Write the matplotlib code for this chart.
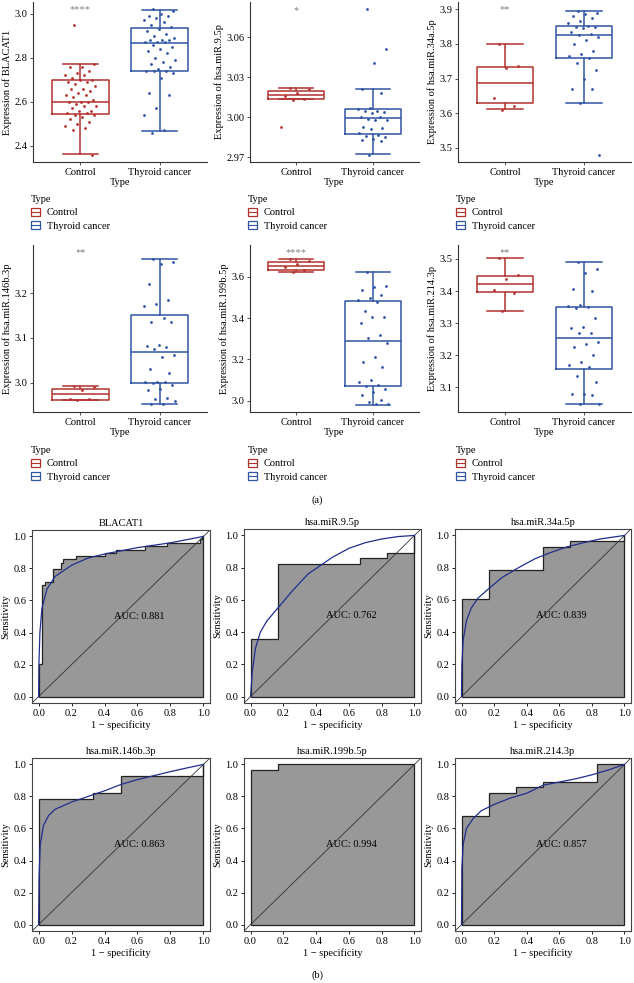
import numpy as np
import matplotlib
matplotlib.use('Agg')
import matplotlib.pyplot as plt
from matplotlib.patches import Patch
from matplotlib.lines import Line2D

plt.rcParams['font.family'] = ['Liberation Serif', 'DejaVu Serif']

# ---------------- data: expression boxplots ----------------
groups = ['Control', 'Thyroid cancer']

blacat1_ctrl = [2.95, 2.77, 2.76, 2.76, 2.74, 2.73, 2.72, 2.72, 2.71, 2.70, 2.70, 2.69, 2.69, 2.68,
                2.67, 2.66, 2.66, 2.65, 2.64, 2.63, 2.63, 2.62, 2.61, 2.60, 2.60, 2.60, 2.59, 2.58,
                2.58, 2.57, 2.56, 2.56, 2.55, 2.55, 2.54, 2.54, 2.53, 2.52, 2.51, 2.50, 2.49, 2.48,
                2.47, 2.36]
blacat1_tumor = [3.02, 3.01, 3.00, 2.99, 2.99, 2.98, 2.97, 2.96, 2.95, 2.94, 2.93, 2.92, 2.91, 2.90,
                 2.89, 2.88, 2.88, 2.88, 2.87, 2.87, 2.87, 2.86, 2.85, 2.84, 2.83, 2.82, 2.80, 2.79,
                 2.78, 2.77, 2.76, 2.75, 2.74, 2.74, 2.74, 2.73, 2.71, 2.64, 2.63, 2.57, 2.54, 2.47,
                 2.46]
blacat1_box = [[2.364, 2.544, 2.600, 2.698, 2.773], [2.466, 2.742, 2.867, 2.934, 3.017]]

mir95_ctrl = [3.022, 3.021, 3.018, 3.016, 3.014, 3.013, 2.993]
mir95_tumor = [3.081, 3.051, 3.041, 3.021, 3.018, 3.007, 3.006, 3.005, 3.005, 3.004, 3.003, 3.000,
               3.000, 2.999, 2.998, 2.998, 2.993, 2.992, 2.991, 2.988, 2.987, 2.986, 2.985, 2.984,
               2.983, 2.982, 2.972]
mir95_box = [[3.0134, 3.0134, 3.0168, 3.0198, 3.0218], [2.9723, 2.9879, 2.9995, 3.0059, 3.0213]]

mir34_ctrl = [3.800, 3.735, 3.730, 3.645, 3.620, 3.610]
mir34_tumor = [3.895, 3.890, 3.885, 3.880, 3.875, 3.865, 3.860, 3.852, 3.850, 3.848, 3.845, 3.835,
               3.830, 3.825, 3.820, 3.810, 3.800, 3.780, 3.770, 3.765, 3.760, 3.745, 3.725, 3.700,
               3.670, 3.670, 3.630, 3.480]
mir34_box = [[3.611, 3.629, 3.688, 3.733, 3.800], [3.630, 3.758, 3.825, 3.853, 3.894]]

mir146_ctrl = [2.993, 2.990, 2.985, 2.965, 2.963, 2.962]
mir146_tumor = [3.275, 3.270, 3.265, 3.220, 3.185, 3.175, 3.170, 3.145, 3.135, 3.135, 3.085, 3.083,
                3.080, 3.076, 3.063, 3.057, 3.030, 3.022, 3.003, 3.002, 3.001, 2.999, 2.995, 2.987,
                2.985, 2.967, 2.965, 2.960, 2.953, 2.952]
mir146_box = [[2.962, 2.962, 2.975, 2.987, 2.9925], [2.952, 2.999, 3.068, 3.150, 3.275]]

mir199_ctrl = [3.685, 3.675, 3.665, 3.650, 3.632, 3.622]
mir199_tumor = [3.624, 3.555, 3.550, 3.535, 3.510, 3.500, 3.490, 3.480, 3.435, 3.405, 3.405, 3.375,
                3.320, 3.305, 3.280, 3.210, 3.190, 3.165, 3.100, 3.090, 3.075, 3.070, 3.055, 3.040,
                3.030, 3.005, 2.995, 2.985, 2.982]
mir199_box = [[3.622, 3.635, 3.654, 3.670, 3.686], [2.981, 3.073, 3.291, 3.481, 3.624]]

mir214_ctrl = [3.503, 3.450, 3.438, 3.403, 3.394, 3.337]
mir214_tumor = [3.490, 3.470, 3.455, 3.405, 3.400, 3.355, 3.352, 3.350, 3.348, 3.315, 3.287, 3.285,
                3.270, 3.268, 3.242, 3.236, 3.226, 3.200, 3.177, 3.170, 3.163, 3.135, 3.117, 3.080,
                3.078, 3.075, 3.046, 3.046]
mir214_box = [[3.337, 3.396, 3.422, 3.448, 3.503], [3.046, 3.157, 3.254, 3.349, 3.491]]

box_genes = ['BLACAT1', 'hsa.miR.9.5p', 'hsa.miR.34a.5p', 'hsa.miR.146b.3p', 'hsa.miR.199b.5p', 'hsa.miR.214.3p']
box_ctrl = [blacat1_ctrl, mir95_ctrl, mir34_ctrl, mir146_ctrl, mir199_ctrl, mir214_ctrl]
box_tumor = [blacat1_tumor, mir95_tumor, mir34_tumor, mir146_tumor, mir199_tumor, mir214_tumor]
box_stats = [blacat1_box, mir95_box, mir34_box, mir146_box, mir199_box, mir214_box]
sig_labels = ['****', '*', '**', '**', '****', '**']
sig_y = [3.020, 3.080, 3.900, 3.290, 3.718, 3.520]
box_yticks = [[2.4, 2.6, 2.8, 3.0], [2.97, 3.00, 3.03, 3.06], [3.5, 3.6, 3.7, 3.8, 3.9],
              [3.0, 3.1, 3.2], [3.0, 3.2, 3.4, 3.6], [3.1, 3.2, 3.3, 3.4, 3.5]]
box_tickfmt = ['%.1f', '%.2f', '%.1f', '%.1f', '%.1f', '%.1f']

# ---------------- data: ROC curves ----------------
roc_names = ['BLACAT1', 'hsa.miR.9.5p', 'hsa.miR.34a.5p', 'hsa.miR.146b.3p', 'hsa.miR.199b.5p', 'hsa.miR.214.3p']
roc_auc = ['0.881', '0.762', '0.839', '0.863', '0.994', '0.857']
# empirical steps: at fpr[i] the sensitivity jumps to tpr[i]
roc_fpr = [
    [0, 0.02, 0.039, 0.086, 0.133, 0.151, 0.224, 0.402, 0.469, 0.647, 0.78, 0.978, 0.994],
    [0, 0.167, 0.667, 0.833, 1.0],
    [0, 0.167, 0.5, 0.667, 1.0],
    [0, 0.333, 0.5, 1.0],
    [0, 0.167],
    [0, 0.167, 0.333, 0.5, 0.833],
]
roc_tpr = [
    [0.204, 0.694, 0.714, 0.796, 0.837, 0.857, 0.878, 0.898, 0.918, 0.939, 0.959, 0.986, 1.0],
    [0.357, 0.821, 0.857, 0.893, 1.0],
    [0.607, 0.786, 0.929, 0.964, 1.0],
    [0.786, 0.821, 0.929, 1.0],
    [0.964, 1.0],
    [0.679, 0.821, 0.857, 0.893, 1.0],
]
# smoothed curves
roc_smooth_x = [
    [0, 0.002, 0.008, 0.02, 0.05, 0.1, 0.2, 0.3, 0.4, 0.5, 0.6, 0.7, 0.8, 0.9, 1.0],
    [0, 0.01, 0.03, 0.06, 0.1, 0.167, 0.25, 0.35, 0.45, 0.5, 0.6, 0.7, 0.8, 0.9, 1.0],
    [0, 0.002, 0.01, 0.03, 0.06, 0.1, 0.167, 0.25, 0.35, 0.45, 0.55, 0.65, 0.75, 0.85, 1.0],
    [0, 0.003, 0.01, 0.03, 0.06, 0.1, 0.2, 0.3, 0.4, 0.5, 0.6, 0.7, 0.8, 0.9, 1.0],
    [],
    [0, 0.002, 0.01, 0.03, 0.07, 0.12, 0.2, 0.3, 0.4, 0.5, 0.6, 0.7, 0.8, 0.9, 1.0],
]
roc_smooth_y = [
    [0, 0.2, 0.4, 0.55, 0.67, 0.75, 0.82, 0.865, 0.89, 0.91, 0.93, 0.945, 0.96, 0.98, 1.0],
    [0, 0.15, 0.3, 0.4, 0.47, 0.55, 0.65, 0.76, 0.83, 0.865, 0.92, 0.955, 0.978, 0.993, 1.0],
    [0, 0.2, 0.35, 0.47, 0.55, 0.61, 0.67, 0.74, 0.8, 0.855, 0.895, 0.93, 0.955, 0.978, 1.0],
    [0, 0.3, 0.5, 0.62, 0.68, 0.72, 0.765, 0.8, 0.835, 0.875, 0.905, 0.93, 0.955, 0.978, 1.0],
    [],
    [0, 0.35, 0.5, 0.6, 0.66, 0.71, 0.75, 0.79, 0.82, 0.87, 0.89, 0.91, 0.935, 0.965, 1.0],
]

# ---------------- figure ----------------
W, H = 634, 983
fig = plt.figure(figsize=(W / 100, H / 100), dpi=100)


def add_ax(l, t, r, b):
    return fig.add_axes([l / W, 1 - b / H, (r - l) / W, (b - t) / H])


red = '#B3322E'
blue = '#2F55A4'
fs = 7.5

box_rects = [(33, 2, 207, 162), (250, 2, 419, 162), (458, 2, 631, 162),
             (33, 245, 207, 412), (250, 245, 419, 412), (458, 245, 631, 412)]

for k in range(6):
    ax = add_ax(*box_rects[k])
    stats = []
    for s in box_stats[k]:
        stats.append(dict(whislo=s[0], q1=s[1], med=s[2], q3=s[3], whishi=s[4], fliers=[]))
    art = ax.bxp(stats, positions=[1, 2], widths=0.72, capwidths=0.45, showfliers=False,
                 patch_artist=False)
    for i, c in enumerate([red, blue]):
        art['boxes'][i].set(color=c, linewidth=1.1)
        art['medians'][i].set(color=c, linewidth=1.1)
        for j in (2 * i, 2 * i + 1):
            art['whiskers'][j].set(color=c, linewidth=1.1)
            art['caps'][j].set(color=c, linewidth=1.1)
    for i, (vals, c) in enumerate([(box_ctrl[k], red), (box_tumor[k], blue)]):
        n = len(vals)
        offs = ((np.arange(n) * 0.618034 + 0.3) % 1 - 0.5) * 0.4
        ax.scatter(1 + i + offs, vals, s=4, color=c, zorder=3, linewidths=0)
    ax.text(1, sig_y[k], sig_labels[k], ha='center', va='center', color='#808080', fontsize=fs)
    allv = box_ctrl[k] + box_tumor[k] + [sig_y[k]]
    lo, hi = min(allv), max(allv)
    pad = (hi - lo) * 0.05
    ax.set_ylim(lo - pad, hi + pad)
    ax.set_xlim(0.4, 2.6)
    ax.set_xticks([1, 2])
    ax.set_xticklabels(groups, fontsize=fs)
    ax.set_yticks(box_yticks[k])
    ax.set_yticklabels([box_tickfmt[k] % v for v in box_yticks[k]], fontsize=fs)
    ax.set_xlabel('Type', fontsize=fs, labelpad=1)
    ax.set_ylabel('Expression of ' + box_genes[k], fontsize=fs, labelpad=2)
    ax.tick_params(length=2, width=0.6, pad=2, color='#333333')
    for sp in ['top', 'right']:
        ax.spines[sp].set_visible(False)
    for sp in ['left', 'bottom']:
        ax.spines[sp].set_linewidth(0.8)
        ax.spines[sp].set_color('#333333')
    handles = [(Patch(facecolor='white', edgecolor=c, linewidth=0.9),
                Line2D([0], [0], color=c, linewidth=0.8)) for c in (red, blue)]
    lx = box_rects[k][0] - 4
    ly = 193 if k < 3 else 444
    leg = fig.legend(handles, groups, title='Type', loc='upper left',
                     bbox_to_anchor=(lx / W, 1 - ly / H), frameon=False, fontsize=fs,
                     title_fontsize=fs, handlelength=0.9, handleheight=0.8, handletextpad=0.6,
                     labelspacing=0.35, borderaxespad=0, borderpad=0.2)
    leg._legend_box.align = 'left'

fig.text(317 / W, 1 - 500 / H, '(a)', ha='center', va='center', fontsize=fs)

# ---------------- ROC panels ----------------
roc_rects = [(32, 530, 210, 703), (244, 529, 421, 703), (455, 529, 631, 703),
             (32, 758, 210, 931), (244, 758, 421, 931), (455, 758, 631, 931)]

for k in range(6):
    ax = add_ax(*roc_rects[k])
    xs, ys = [0], [0]
    prev = 0
    for f, t in zip(roc_fpr[k], roc_tpr[k]):
        xs += [f, f]
        ys += [prev, t]
        prev = t
    xs += [1, 1]
    ys += [prev, 0]
    ax.fill(xs, ys, facecolor='#989898', edgecolor='#222222', linewidth=0.9, zorder=1)
    ax.axline((0, 0), (1, 1), color='#333333', linewidth=0.6, zorder=2)
    if roc_smooth_x[k]:
        ax.plot(roc_smooth_x[k], roc_smooth_y[k], color='#1F2F8F', linewidth=0.9, zorder=3)
    ax.text(0.46, 0.5, 'AUC: ' + roc_auc[k], ha='left', va='center', fontsize=fs, zorder=4)
    ax.set_xlim(-0.04, 1.04)
    ax.set_ylim(-0.04, 1.04)
    ticks = [0.0, 0.2, 0.4, 0.6, 0.8, 1.0]
    ax.set_xticks(ticks)
    ax.set_yticks(ticks)
    ax.set_xticklabels(['%.1f' % t for t in ticks], fontsize=fs)
    ax.set_yticklabels(['%.1f' % t for t in ticks], fontsize=fs)
    ax.tick_params(length=2, width=0.6, pad=2)
    ax.set_title(roc_names[k], fontsize=fs, pad=3)
    ax.set_xlabel('1 \u2212 specificity', fontsize=fs, labelpad=2)
    ax.set_ylabel('Sensitivity', fontsize=fs, labelpad=2)
    for sp in ax.spines.values():
        sp.set_linewidth(0.8)
        sp.set_color('#444444')

fig.text(317 / W, 1 - 975 / H, '(b)', ha='center', va='center', fontsize=fs)

fig.savefig('out.png', dpi=100)
